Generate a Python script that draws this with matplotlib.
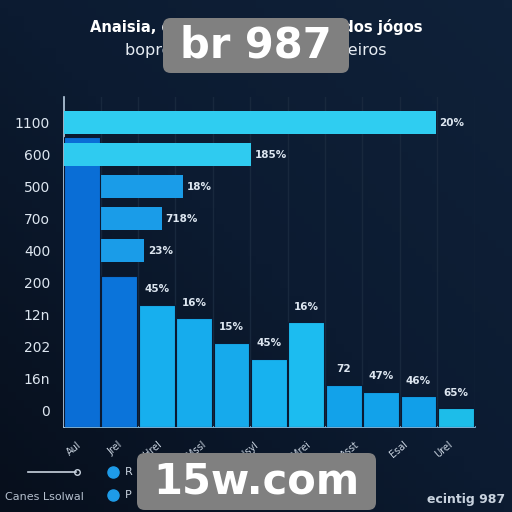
import matplotlib
matplotlib.use("Agg")
import matplotlib.pyplot as plt
import numpy as np
from matplotlib.patches import FancyBboxPatch
from matplotlib.colors import LinearSegmentedColormap

# ---------------- data ----------------
y_labels = ["1100", "600", "500", "70o", "400", "200", "12n", "202", "16n", "0"]
h_values = [99.5, 50.0, 31.8, 26.2, 21.4]            # horizontal bars (rows 0..4)
h_labels = ["20%", "185%", "18%", "718%", "23%"]

v_values = [967, 503, 407, 363, 280, 227, 350, 140, 117, 103, 63]
v_labels = ["", "", "45%", "16%", "15%", "45%", "16%", "72", "47%", "46%", "65%"]
x_labels = ["Aul", "Jrel", "Hrel", "Mssl", "Hsyl", "Mrei", "Asst", "Esal", "Urel"]
x_label_pos = [-0.13, 0.96, 2.0, 3.2, 4.6, 6.0, 7.3, 8.6, 9.8]

title = "Anaisia, dados de preferência dos jógos"
subtitle = "bopre os apostadores brasileiros"

# ---------------- colours ----------------
v_colors = ["#0a6ed6", "#0b74da", "#17afee", "#16aced", "#16aaec", "#17b2ef",
            "#1cbcf0", "#12a2ea", "#12a2ea", "#119fe9", "#1dbde9"]
h_colors = ["#2fcdf1", "#2fcbf0", "#1a9ce8", "#1a9ce8", "#1a9ce8"]
bg = "#0a1629"
grid_c = "#18283d"
txt_c = "#dde6f0"

fig = plt.figure(figsize=(5.12, 5.12), dpi=100)
fig.patch.set_facecolor(bg)

# background gradient
bgax = fig.add_axes([0, 0, 1, 1], zorder=-10)
gx, gy = np.meshgrid(np.linspace(0, 1, 64), np.linspace(0, 1, 64))
grad = 0.5 * gx + 0.5 * gy
cmap = LinearSegmentedColormap.from_list("bgc", ["#070f1c", "#0c1b31", "#0f2139"])
bgax.imshow(grad, cmap=cmap, origin="lower", extent=[0, 1, 0, 1], aspect="auto")
bgax.axis("off")

pos = [64 / 512, 1 - 427 / 512, (475 - 64) / 512, (427 - 97) / 512]

# vertical bars axes
ax = fig.add_axes(pos)
ax.set_facecolor("none")
xs = np.arange(len(v_values))
ax.set_xlim(-0.48, 10.51)
ax.set_ylim(0, 1100)
for i in range(-1, len(v_values)):
    ax.axvline(i + 0.5, color=grid_c, lw=1.0, zorder=0)
ax.bar(xs, v_values, width=0.96, color=v_colors, edgecolor="#0a1a33",
       linewidth=0.8, zorder=3)
for x, v, lab in zip(xs, v_values, v_labels):
    if lab:
        ax.text(x, v + 35, lab, ha="center", va="bottom", color=txt_c,
                fontsize=7.5, fontweight="bold", zorder=6)
ax.set_xticks(x_label_pos)
ax.set_xticklabels(x_labels, rotation=40, ha="right", rotation_mode="anchor",
                   color="#c9d3df", fontsize=7)
ax.tick_params(axis="x", length=0, pad=9)
ax.set_yticks([])
for s in ["top", "right", "left"]:
    ax.spines[s].set_visible(False)
ax.spines["bottom"].set_color("#8fc8ee")
ax.spines["bottom"].set_linewidth(1.2)

# horizontal bars axes (overlay)
ax2 = fig.add_axes(pos)
ax2.set_facecolor("none")
ax2.set_xlim(0, 110)
ax2.set_ylim(9.5, -0.81)
rows = np.arange(len(h_values))
for r, v, c, lab in zip(rows, h_values, h_colors, h_labels):
    ax2.barh(r, v, height=0.72, color=c, zorder=2)
    ax2.text(v + 1.0, r, lab, va="center", ha="left", color=txt_c,
             fontsize=7.5, fontweight="bold", zorder=6)
ax2.set_yticks(np.arange(len(y_labels)))
ax2.set_yticklabels(y_labels, color=txt_c, fontsize=10)
ax2.tick_params(axis="y", length=0, pad=10)
ax2.set_xticks([])
for s in ["top", "right", "bottom"]:
    ax2.spines[s].set_visible(False)
ax2.spines["left"].set_color("#b8cde0")
ax2.spines["left"].set_linewidth(1.2)
ax2.set_zorder(ax.get_zorder() + 1)

# first two vertical bars drawn over the lower horizontal bars
ax_top = fig.add_axes(pos)
ax_top.set_facecolor("none")
ax_top.set_xlim(ax.get_xlim()); ax_top.set_ylim(ax.get_ylim())
ax_top.bar(xs[:2], v_values[:2], width=0.96, color=v_colors[:2],
           edgecolor="#0a1a33", linewidth=0.8)
ax_top.axis("off")
ax_top.set_zorder(ax2.get_zorder() + 1)

# top two horizontal bars above the first vertical bar
ax3 = fig.add_axes(pos)
ax3.set_facecolor("none")
ax3.set_xlim(ax2.get_xlim()); ax3.set_ylim(ax2.get_ylim())
for r, v, c in zip(rows[:2], h_values[:2], h_colors[:2]):
    ax3.barh(r, v, height=0.72, color=c)
ax3.axis("off")
ax3.set_zorder(ax_top.get_zorder() + 1)

# titles
fig.text(0.5, 1 - 27 / 512, title, ha="center", va="center", color="white",
         fontsize=10.6, fontweight="bold")
fig.text(0.5, 1 - 50 / 512, subtitle, ha="center", va="center", color="#e6ecf3",
         fontsize=11.5)

# legend-like elements at bottom
fig.add_artist(plt.Line2D([28 / 512, 76 / 512], [1 - 472 / 512] * 2,
                          color="#c9d3df", lw=1.2))
fig.add_artist(plt.Line2D([77 / 512], [1 - 472 / 512], marker="o", ms=4,
                          mfc="none", mec="#c9d3df", lw=0))
fig.text(5 / 512, 1 - 497 / 512, "Canes Lsolwal", color="#b5c0ce", fontsize=8,
         va="center", ha="left")
for yy, lab in [(472, "R"), (495, "P")]:
    fig.add_artist(plt.Line2D([113 / 512], [1 - yy / 512], marker="o", ms=8,
                              color="#1e9be8", lw=0))
    fig.text(125 / 512, 1 - yy / 512, lab, color="#c9d3df", fontsize=8,
             va="center", ha="left")
fig.text(505 / 512, 1 - 500 / 512, "ecintig 987", color="#c8d2de", fontsize=9,
         fontweight="bold", va="center", ha="right")

# watermark boxes
for (x0, y0, x1, y1, lab) in [(163, 18, 349, 73, "br 987"),
                              (137, 453, 376, 510, "15w.com")]:
    box = FancyBboxPatch((x0 / 512, 1 - y1 / 512), (x1 - x0) / 512, (y1 - y0) / 512,
                         boxstyle="round,pad=0,rounding_size=0.015",
                         transform=fig.transFigure, facecolor="#808080",
                         edgecolor="none", zorder=20)
    fig.add_artist(box)
    fig.text((x0 + x1) / 2 / 512, 1 - (y0 + y1) / 2 / 512, lab, ha="center",
             va="center", color="white", fontsize=30, fontweight="bold", zorder=21)

fig.savefig("out.png", dpi=100, facecolor=fig.get_facecolor())
